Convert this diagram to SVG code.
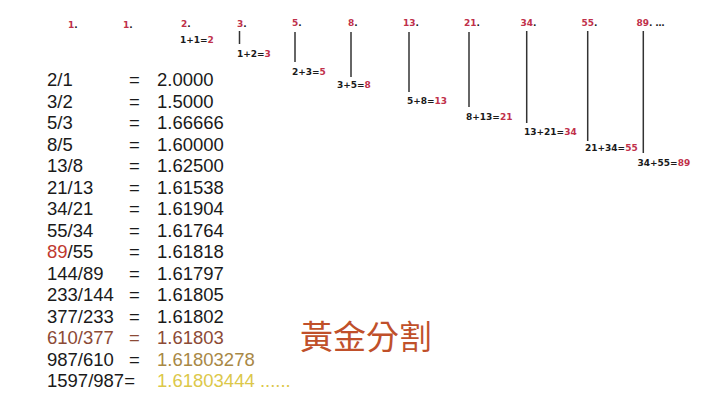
<svg xmlns="http://www.w3.org/2000/svg" width="720" height="400" viewBox="0 0 720 400">
<style>
.row{font-family:"Liberation Sans","Open Sans",sans-serif;font-size:18.5px;fill:#1a1a1a}
.sm{font-family:"DejaVu Sans","Liberation Sans",sans-serif;font-weight:bold;font-size:9px;fill:#1a1a1a}
.r{fill:#c0304a}
.red{fill:#c0392f}
.brn{fill:#8c4a35}
.tan{fill:#a88845}
.yel{fill:#dcc84a}
.conn line{stroke:#333;stroke-width:1.5}
</style>
<rect width="720" height="400" fill="#ffffff"/>
<g id="terms">
<g id="t1a"><text class="sm" x="68" y="28"><tspan class="r">1</tspan>.</text></g>
<g id="t1b"><text class="sm" x="123" y="28"><tspan class="r">1</tspan>.</text></g>
<g id="t2"><text class="sm" x="181" y="27"><tspan class="r">2</tspan>.</text><text class="sm" x="180" y="42.5">1+1=<tspan class="r">2</tspan></text></g>
<g id="t3"><text class="sm" x="237" y="27"><tspan class="r">3</tspan>.</text><text class="sm" x="237" y="57">1+2=<tspan class="r">3</tspan></text></g>
<g id="t5"><text class="sm" x="292" y="26"><tspan class="r">5</tspan>.</text><text class="sm" x="292" y="75">2+3=<tspan class="r">5</tspan></text></g>
<g id="t8"><text class="sm" x="348" y="26"><tspan class="r">8</tspan>.</text><text class="sm" x="337" y="88">3+5=<tspan class="r">8</tspan></text></g>
<g id="t13"><text class="sm" x="403" y="26"><tspan class="r">13</tspan>.</text><text class="sm" x="407" y="104">5+8=<tspan class="r">13</tspan></text></g>
<g id="t21"><text class="sm" x="464" y="26"><tspan class="r">21</tspan>.</text><text class="sm" x="466" y="120">8+13=<tspan class="r">21</tspan></text></g>
<g id="t34"><text class="sm" x="520.5" y="26"><tspan class="r">34</tspan>.</text><text class="sm" x="524" y="135">13+21=<tspan class="r">34</tspan></text></g>
<g id="t55"><text class="sm" x="581.5" y="26"><tspan class="r">55</tspan>.</text><text class="sm" x="585" y="151">21+34=<tspan class="r">55</tspan></text></g>
<g id="t89"><text class="sm" x="636.5" y="26"><tspan class="r">89</tspan>. …</text><text class="sm" x="637.5" y="166">34+55=<tspan class="r">89</tspan></text></g>
</g>
<g id="connectors" class="conn">
<line x1="239.5" y1="31" x2="239.5" y2="44"/>
<line x1="295" y1="32" x2="295" y2="62"/>
<line x1="351" y1="32" x2="351" y2="77"/>
<line x1="409" y1="32" x2="409" y2="92"/>
<line x1="469" y1="32" x2="469" y2="107"/>
<line x1="526.7" y1="31" x2="526.7" y2="123"/>
<line x1="587.7" y1="31" x2="587.7" y2="141"/>
<line x1="643.3" y1="31" x2="643.3" y2="153"/>
</g>
<g id="ratios">
<text class="row" x="47" y="86">2/1</text><text class="row" x="129" y="86">=</text><text class="row" x="157" y="86">2.0000</text>
<text class="row" x="47" y="107.5">3/2</text><text class="row" x="129" y="107.5">=</text><text class="row" x="157" y="107.5">1.5000</text>
<text class="row" x="47" y="129">5/3</text><text class="row" x="129" y="129">=</text><text class="row" x="157" y="129">1.66666</text>
<text class="row" x="47" y="150.5">8/5</text><text class="row" x="129" y="150.5">=</text><text class="row" x="157" y="150.5">1.60000</text>
<text class="row" x="47" y="172">13/8</text><text class="row" x="129" y="172">=</text><text class="row" x="157" y="172">1.62500</text>
<text class="row" x="47" y="193.5">21/13</text><text class="row" x="129" y="193.5">=</text><text class="row" x="157" y="193.5">1.61538</text>
<text class="row" x="47" y="215">34/21</text><text class="row" x="129" y="215">=</text><text class="row" x="157" y="215">1.61904</text>
<text class="row" x="47" y="236.5">55/34</text><text class="row" x="129" y="236.5">=</text><text class="row" x="157" y="236.5">1.61764</text>
<text class="row" x="47" y="258"><tspan class="red">89</tspan>/55</text><text class="row" x="129" y="258">=</text><text class="row" x="157" y="258">1.61818</text>
<text class="row" x="47" y="279.5">144/89</text><text class="row" x="129" y="279.5">=</text><text class="row" x="157" y="279.5">1.61797</text>
<text class="row" x="47" y="301">233/144</text><text class="row" x="129" y="301">=</text><text class="row" x="157" y="301">1.61805</text>
<text class="row" x="47" y="322.5">377/233</text><text class="row" x="129" y="322.5">=</text><text class="row" x="157" y="322.5">1.61802</text>
<text class="row brn" x="47" y="344">610/377</text><text class="row brn" x="129" y="344">=</text><text class="row brn" x="157" y="344">1.61803</text>
<text class="row" x="47" y="365.5">987/610</text><text class="row" x="129" y="365.5">=</text><text class="row tan" x="157" y="365.5">1.61803278</text>
<text class="row" x="47" y="387">1597/987=</text><text class="row yel" x="157" y="387">1.61803444 ......</text>
</g>
<text x="300" y="349" font-family="'Noto Sans CJK TC','Noto Sans CJK SC',sans-serif" font-size="33" fill="#c0502a">黃金分割</text>
</svg>
